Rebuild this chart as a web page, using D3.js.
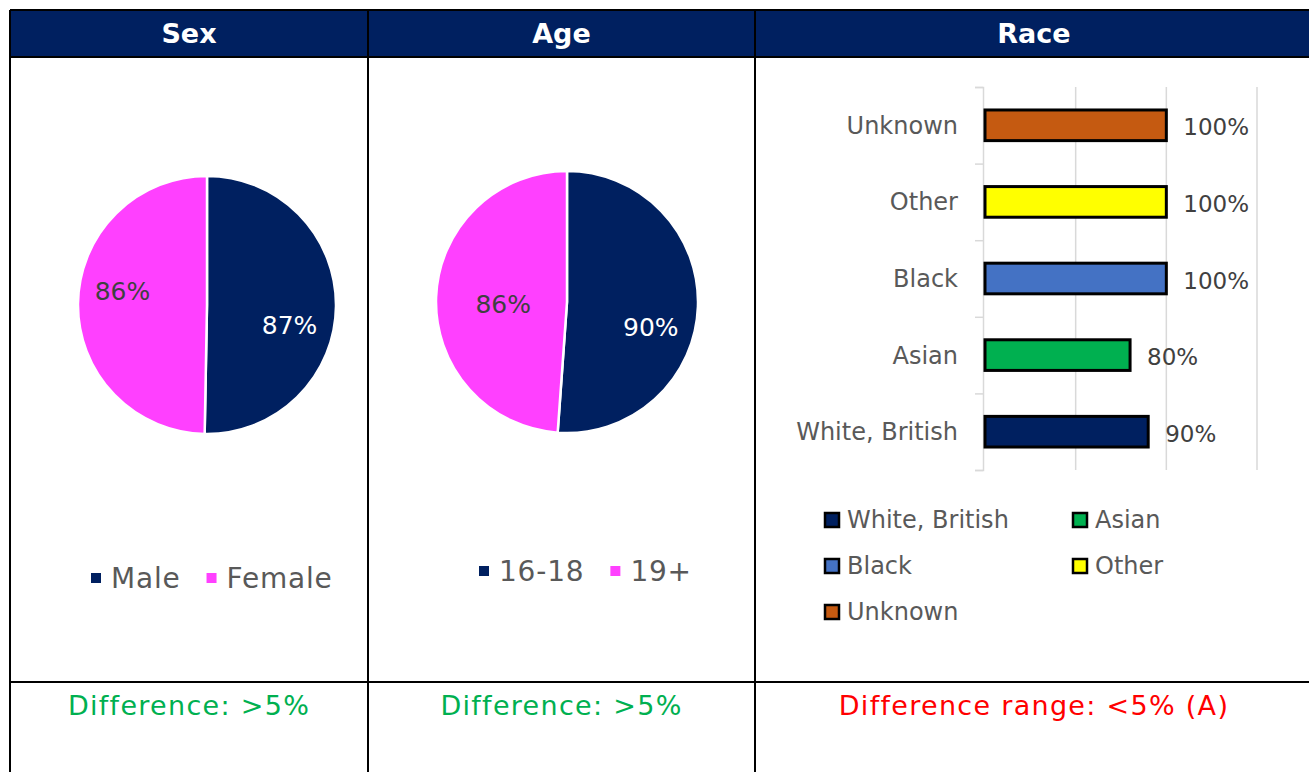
<!DOCTYPE html>
<html>
<head>
<meta charset="utf-8">
<title>Sex, Age and Race</title>
<script src="https://cdnjs.cloudflare.com/ajax/libs/d3/7.8.5/d3.min.js"></script>
<style>
  body { margin: 0; background: #fff; }
  text { font-family: "DejaVu Sans", sans-serif; }
</style>
</head>
<body>
<div id="chart"></div>
<script>
// data
var headers = ["Sex", "Age", "Race"];

var sexLabels = ["Male", "Female"];
var sexValues = [87, 86];

var ageLabels = ["16-18", "19+"];
var ageValues = [90, 86];

var raceCategories = ["White, British", "Asian", "Black", "Other", "Unknown"];
var raceValues = [90, 80, 100, 100, 100];
var raceGrid = [0, 50, 100, 150];

var notes = ["Difference: >5%", "Difference: >5%", "Difference range: <5% (A)"];
var noteColors = ["#00b050", "#00b050", "#ff0000"];

var navy = "#002060", pink = "#ff40ff";
var raceColors = ["#002060", "#00b050", "#4472c4", "#ffff00", "#c55a11"];
var grey = "#595959";

var W = 1309, H = 772;
var svg = d3.select("#chart").append("svg").attr("width", W).attr("height", H);

// table grid
var colX = [10, 368, 755, 1313];
var topY = 10, headBot = 57, rowBot = 682;

svg.append("rect").attr("x", colX[0]).attr("y", topY)
  .attr("width", W - colX[0]).attr("height", headBot - topY).attr("fill", navy);

svg.selectAll("text.head").data(headers).enter().append("text")
  .attr("class", "head")
  .attr("x", function(d, i){ return (colX[i] + colX[i + 1]) / 2; })
  .attr("y", 43)
  .attr("text-anchor", "middle")
  .attr("fill", "#fff").attr("font-weight", "bold").attr("font-size", 27)
  .text(function(d){ return d; });

var lines = svg.append("g").attr("stroke", "#000").attr("stroke-width", 2);
lines.append("line").attr("x1", colX[0]).attr("x2", W).attr("y1", topY).attr("y2", topY);
lines.append("line").attr("x1", colX[0]).attr("x2", W).attr("y1", headBot).attr("y2", headBot);
lines.append("line").attr("x1", colX[0]).attr("x2", W).attr("y1", rowBot).attr("y2", rowBot);
colX.slice(0, 3).forEach(function(x){
  lines.append("line").attr("x1", x).attr("x2", x).attr("y1", topY).attr("y2", H);
});

// notes row
svg.selectAll("text.note").data(notes).enter().append("text")
  .attr("class", "note")
  .attr("x", function(d, i){ return (colX[i] + colX[i + 1]) / 2; })
  .attr("y", 715)
  .attr("text-anchor", "middle")
  .attr("font-size", 27).attr("letter-spacing", 1.3)
  .attr("fill", function(d, i){ return noteColors[i]; })
  .text(function(d){ return d; });

// pies
function drawPie(cx, cy, r, labels, values, labelNudge, legendY, legendX) {
  var g = svg.append("g").attr("transform", "translate(" + cx + "," + cy + ")");
  var pie = d3.pie().sort(null)(values);
  var arc = d3.arc().innerRadius(0).outerRadius(r);
  var colors = [navy, pink];

  g.selectAll("path").data(pie).enter().append("path")
    .attr("d", arc)
    .attr("fill", function(d, i){ return colors[i]; })
    .attr("stroke", "#fff").attr("stroke-width", 2.5);

  var labelArc = d3.arc().innerRadius(r * 0.64).outerRadius(r * 0.64);
  g.selectAll("text").data(pie).enter().append("text")
    .attr("x", function(d, i){ return labelArc.centroid(d)[0] + labelNudge[i][0]; })
    .attr("y", function(d, i){ return labelArc.centroid(d)[1] + labelNudge[i][1]; })
    .attr("text-anchor", "middle").attr("dy", "0.35em")
    .attr("font-size", 25)
    .attr("fill", function(d, i){ return i === 0 ? "#fff" : "#404040"; })
    .text(function(d){ return d.value + "%"; });

  // legend
  var lg = svg.append("g").attr("transform", "translate(" + legendX + "," + legendY + ")");
  var x = 0;
  labels.forEach(function(l, i){
    lg.append("rect").attr("x", x).attr("y", -5).attr("width", 10).attr("height", 10)
      .attr("fill", colors[i]);
    var t = lg.append("text").attr("x", x + 20).attr("y", 0).attr("dy", "0.35em")
      .attr("font-size", 28).attr("letter-spacing", 0.8).attr("fill", grey).text(l);
    x += 20 + t.node().getComputedTextLength() + 26;
  });
}

drawPie(207, 305, 129, sexLabels, sexValues, [[0, 20], [-2, -13]], 578, 91);
drawPie(567, 302, 131, ageLabels, ageValues, [[0, 22], [20, 5]], 571, 479);

// race bar chart
var x = d3.scaleLinear().domain([0, 150]).range([985, 1257]);
var y = d3.scaleBand().domain(raceCategories).range([470, 87]).paddingInner(0.6).paddingOuter(0.3);

var bg = svg.append("g");
bg.selectAll("line.grid").data(raceGrid.slice(1)).enter().append("line")
  .attr("x1", function(d){ return x(d); }).attr("x2", function(d){ return x(d); })
  .attr("y1", 87).attr("y2", 470)
  .attr("stroke", "#d9d9d9").attr("stroke-width", 1.5);

var yAxis = d3.axisLeft(d3.scaleLinear().domain([0, raceCategories.length]).range([470, 87]))
  .ticks(raceCategories.length).tickSize(8).tickFormat("");
var ax = bg.append("g").attr("transform", "translate(" + (x(0) - 2) + ",0)").call(yAxis);
ax.selectAll("path, line").attr("stroke", "#d9d9d9").attr("stroke-width", 1.5);

bg.selectAll("rect.bar").data(raceValues).enter().append("rect")
  .attr("class", "bar")
  .attr("x", x(0))
  .attr("y", function(d, i){ return y(raceCategories[i]); })
  .attr("width", function(d){ return x(d) - x(0); })
  .attr("height", y.bandwidth())
  .attr("fill", function(d, i){ return raceColors[i]; })
  .attr("stroke", "#000").attr("stroke-width", 3);

bg.selectAll("text.cat").data(raceCategories).enter().append("text")
  .attr("x", 958)
  .attr("y", function(d){ return y(d) + y.bandwidth() / 2; })
  .attr("dy", "0.35em").attr("text-anchor", "end")
  .attr("font-size", 24).attr("fill", grey)
  .text(function(d){ return d; });

bg.selectAll("text.val").data(raceValues).enter().append("text")
  .attr("x", function(d){ return x(d) + 17; })
  .attr("y", function(d, i){ return y(raceCategories[i]) + y.bandwidth() / 2 + 2; })
  .attr("dy", "0.35em")
  .attr("font-size", 23).attr("fill", "#404040")
  .text(function(d){ return d + "%"; });

// race legend, two columns
var leg = svg.append("g");
raceCategories.forEach(function(c, i){
  var lx = i % 2 === 0 ? 825 : 1073;
  var ly = 520 + Math.floor(i / 2) * 46;
  leg.append("rect").attr("x", lx).attr("y", ly - 7).attr("width", 14).attr("height", 14)
    .attr("fill", raceColors[i]).attr("stroke", "#000").attr("stroke-width", 2.5);
  leg.append("text").attr("x", lx + 22).attr("y", ly).attr("dy", "0.35em")
    .attr("font-size", 24).attr("fill", grey).text(c);
});
</script>
</body>
</html>
